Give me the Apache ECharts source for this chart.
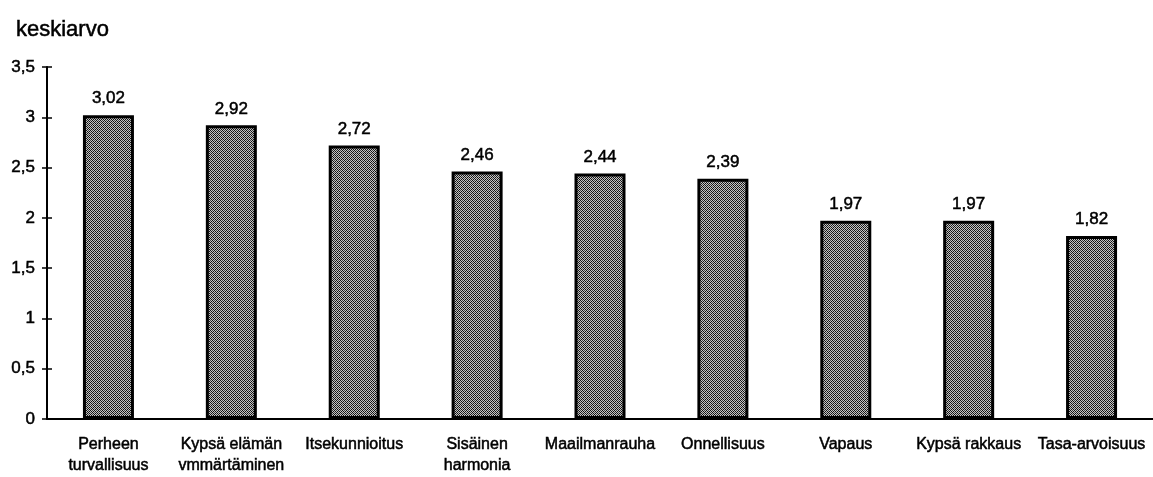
<!DOCTYPE html>
<html>
<head>
<meta charset="utf-8">
<script src="https://cdn.jsdelivr.net/npm/echarts@6/dist/echarts.min.js"></script>
<style>
  html, body { margin: 0; padding: 0; background: #fff; }
  #main { width: 1153px; height: 477px; }
</style>
</head>
<body>
<div id="main"></div>
<script>
var categories = [
  "Perheen\nturvallisuus",
  "Kypsä elämän\nvmmärtäminen",
  "Itsekunnioitus",
  "Sisäinen\nharmonia",
  "Maailmanrauha",
  "Onnellisuus",
  "Vapaus",
  "Kypsä rakkaus",
  "Tasa-arvoisuus"
];
var values = [3.02, 2.92, 2.72, 2.46, 2.44, 2.39, 1.97, 1.97, 1.82];
var yTicks = [0, 0.5, 1, 1.5, 2, 2.5, 3, 3.5];

var FONT = "Liberation Sans, Arial, sans-serif";
// skannatun tekstin paksumpi viiva
var INK = { color: "#000", textBorderColor: "#000", textBorderWidth: 0.5 };

// ristikkokuvio pylväisiin
function makePattern() {
  var c = document.createElement("canvas");
  c.width = 4;
  c.height = 4;
  var ctx = c.getContext("2d");
  ctx.fillStyle = "#c4c4c4";
  ctx.fillRect(0, 0, 4, 4);
  for (var x = 0; x < 4; x++) {
    for (var y = 0; y < 4; y++) {
      if ((x + y) % 4 === 0 || (x - y + 4) % 4 === 0) {
        ctx.fillStyle = "#111";
        ctx.fillRect(x, y, 1, 1);
      } else if ((x + y) % 2 === 0) {
        ctx.fillStyle = "#444";
        ctx.fillRect(x, y, 1, 1);
      }
    }
  }
  return c;
}

function fmt(v) {
  return String(v).replace(".", ",");
}

var myChart = echarts.init(document.getElementById("main"));

var yMin = yTicks[0];
var yMax = yTicks[yTicks.length - 1];
var yStep = yTicks[1] - yTicks[0];

var option = {
  animation: false,
  backgroundColor: "#fff",
  title: {
    text: "keskiarvo",
    left: 11,
    top: 14,
    textStyle: Object.assign({ fontFamily: FONT, fontSize: 22, fontWeight: "normal" }, INK)
  },
  grid: {
    left: 47,
    right: 0,
    top: 67,
    bottom: 58,
    outerBoundsMode: "none"
  },
  xAxis: {
    type: "category",
    data: categories,
    axisLine: { lineStyle: { color: "#000", width: 2 } },
    axisTick: { show: false },
    axisLabel: Object.assign({
      interval: 0,
      margin: 15,
      fontFamily: FONT,
      fontSize: 16,
      lineHeight: 21
    }, INK),
    splitLine: { show: false }
  },
  yAxis: [
    {
      type: "value",
      min: yMin,
      max: yMax,
      interval: yStep,
      axisLine: { show: true, lineStyle: { color: "#000", width: 2 } },
      axisTick: { show: true, inside: false, length: 5, lineStyle: { color: "#000", width: 1.5 } },
      axisLabel: Object.assign({
        margin: 12,
        fontFamily: FONT,
        fontSize: 17,
        formatter: fmt
      }, INK),
      splitLine: { show: false }
    },
    {
      type: "value",
      position: "left",
      min: yMin,
      max: yMax,
      interval: yStep,
      axisLine: { show: false },
      axisTick: { show: true, inside: true, length: 5, lineStyle: { color: "#000", width: 1.5 } },
      axisLabel: { show: false },
      splitLine: { show: false }
    }
  ],
  series: [
    {
      type: "bar",
      yAxisIndex: 0,
      data: values,
      barWidth: 51,
      itemStyle: {
        color: { image: makePattern(), repeat: "repeat" },
        borderColor: "#000",
        borderWidth: 3
      },
      label: Object.assign({
        show: true,
        position: "top",
        distance: 8,
        fontFamily: FONT,
        fontSize: 17,
        formatter: function (p) { return fmt(p.value); }
      }, INK)
    }
  ]
};

myChart.setOption(option);
</script>
</body>
</html>
